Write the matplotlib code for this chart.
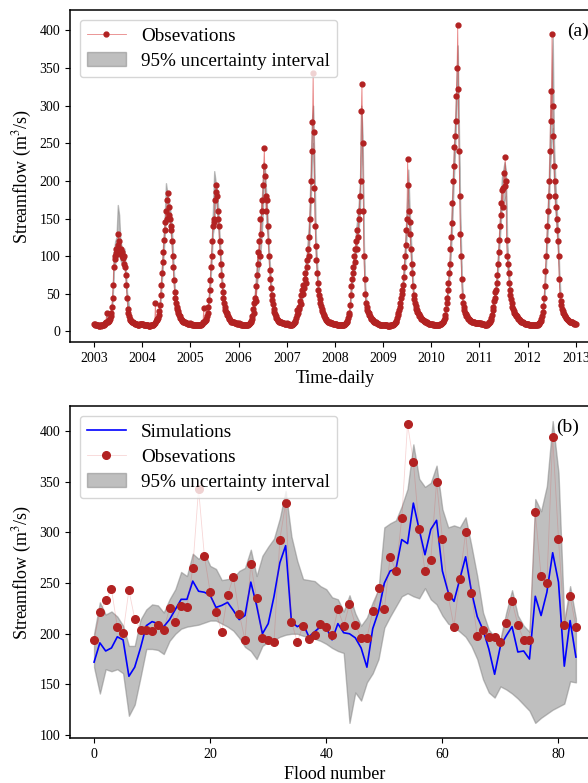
import numpy as np
import pandas as pd
import matplotlib
matplotlib.use('Agg')
import matplotlib.pyplot as plt
import matplotlib.dates as mdates

plt.rcParams['font.family'] = 'Liberation Serif'
plt.rcParams['mathtext.fontset'] = 'stix'

# ---------------- panel (a): daily streamflow, read every 5 days ----------------
years = list(range(2003, 2013))

obs_2003 = [10,10,9,9,8,8,8,7,7,8,8,7,8,8,9,9,10,11,12, 25, 12,13,14,15,17,20,24, 32,45,62,
            85,100,96,104,110,103, 115,130,120,108,104,110,100, 106,98,90,100,85,75, 62,45,30,24,20,
            17,15,14,13,12,12,11, 11,10,10,10,10,9,9,9,10,10,10,10]
obs_2004 = [10,10,9,9,9,8,8,8,8,8,7,7,7,8,8,9,9,9,10, 11,38, 14,15,16,18,22,27, 35,48,62,
            78,92,105,122, 135,145,160,150,175,184,165, 155,150,140,135,120, 100,85,68,52,
            45,38,33,30,27, 25,22,20,18,16,15, 14,13,13,12,12,11,11,11,10,10,10,10]
obs_2005 = [11,10,10,9,9,9,9,8,8,8,8,8,8,8,9,9,9,10,10, 12,31, 13,14,15,17,20,25, 32,42,55,
            68,85,100,120, 140,150,145,175,185,194,180, 160,150,140,120,105, 90,75,62,52,
            44,38,33,29,26, 24,22,20,18,16,15, 14,13,13,12,12,12,11,11,11,11,10,10]
obs_2006 = [11,10,10,10,9,9,9,9,8,8,8,8,8,9,9,10,10,11,12, 14,16,20,30,38, 25,45,60,40,75,
            105,90,120,100, 150,130,175,160,195, 220,244,207,180,160,175, 140,120,100,82,
            70,58,48,42,36, 30,26,23,20,18,16, 15,14,13,13,12,12,12,11,11,11,11,10,10,10]
obs_2007 = [11,10,10,10,9,9,9,9,9,10,10,11,12,14,18, 22,28,25,32,30,40, 36,48,55,50,62,58,
            70,78,65,86,95,110, 100,125,150,175,200, 240,278,343,265, 190,140,113,95,
            78,65,55,48, 43,38,34,30,27,25, 22,20,18,16,15,14, 13,13,12,12,11,11,11,11,10,10,10]
obs_2008 = [10,10,10,9,9,9,8,8,8,8,8,8,9,9,9,10,10,11,12, 14,18,22,25, 35,48,60,70,78,
            85,100,92,109,120, 110,135,125,150,160, 180,200,293,329, 250,160,100,70,
            50,38,32,28, 26,24,22,20,18,17,16, 15,14,13,13,12,12,11,11,10,10,10,9,9,9,9,9]
obs_2009 = [9,9,9,8,8,8,8,7,7,7,7,8,8,8,9,9,10,10,11, 12,14,18,25,22, 28,33,38,45,50,55,
            62,72,85,100,115, 135,150,229,195,160,145, 130,110,90,78,60, 48,43,38,34,
            30,28,26,25,23,21,20, 18,17,16,15,15,14,14,13,12,12,11,11,10,10,10,10]
obs_2010 = [10,10,10,9,9,9,8,8,8,8,9,9,9,10,10,10,11,12,13, 15,18,22,30,38, 45,55,65,78,90,
            110,125,144,170,200, 220,245,260,280, 313,350,407,322,240, 180,130,100,70,
            47,38,32,28, 25,23,21,20,18,17,16, 15,14,14,13,13,12,12,12,11,11,11,11,11,11,11]
obs_2011 = [11,11,11,10,10,10,10,10,9,9,9,9,10,10,11,12,13,15,18, 22,28,33,40, 45,52,55,65,75,
            90,105,122,140, 155,170,188,165,190, 210,193,232,200, 122,100,90,78,
            65,55,48,43,38,33, 30,27,25,23,22,21,20,18, 17,16,15,14,13,13,12,12,11,11,10,10,10,10]
obs_2012 = [10,10,9,9,9,8,8,8,8,8,8,8,8,9,9,9,10,10,11, 12,14,16,20,26, 34,45,60,80,100,
            122,140,160,180,200, 240,320,280,395,300, 260,220,200,180,165, 150,135,120,100,70,
            48,40,35,30, 27,25,23,21,20,18,17, 16,15,14,14,13,13,12,12,12,11,11,10,10]
obs_years = [obs_2003, obs_2004, obs_2005, obs_2006, obs_2007,
             obs_2008, obs_2009, obs_2010, obs_2011, obs_2012]
obs_end = 10

# 95% band, read every 10 days
up_2003 = [11,10,9,9,9,9,9,10,11,13,26,16,19,26,50,105,120,125,168,155,120,112,105,110,85,52,40,22,18,14,13,12,11,11,10,11,11]
lo_2003 = [9,8,7,7,6,7,7,8,9,10,11,12,15,22,40,80,90,100,105,105,95,90,88,88,65,40,22,15,13,11,10,9,9,8,8,9,9]
up_2004 = [11,10,10,9,9,9,9,9,10,12,20,17,20,30,55,90,120,150,197,185,175,165,150,120,80,50,45,30,25,20,17,14,13,12,11,11,11]
lo_2004 = [9,8,8,7,7,6,6,7,8,9,10,13,16,24,42,70,95,125,150,160,155,140,125,95,62,40,30,24,20,16,13,12,11,10,9,9,9]
up_2005 = [12,11,10,10,9,9,9,9,10,11,15,16,19,28,48,78,115,160,213,200,190,165,130,100,70,50,38,29,24,20,17,14,13,13,12,12,11]
lo_2005 = [10,9,8,8,7,7,7,7,8,9,11,13,15,22,38,62,92,130,140,175,170,140,110,82,55,40,30,23,20,16,13,12,11,11,10,10,9]
up_2006 = [12,11,10,10,9,9,9,10,11,13,18,35,45,70,95,110,130,160,190,225,215,180,150,110,80,55,40,30,24,19,16,14,13,12,12,11,11]
lo_2006 = [10,9,8,8,7,7,7,8,9,11,14,25,22,50,65,80,90,115,145,190,190,145,125,90,62,42,32,22,18,14,12,11,10,10,10,9,9]
up_2007 = [12,11,10,10,10,11,13,20,32,36,45,55,58,65,88,100,125,150,210,280,300,220,130,90,62,48,38,30,24,20,17,14,13,12,12,11,11]
lo_2007 = [10,9,8,8,8,9,11,16,24,28,35,42,45,52,70,78,100,115,160,220,250,170,100,70,48,38,30,24,20,16,13,12,11,10,10,9,9]
up_2008 = [11,11,10,9,9,9,10,10,11,13,21,28,55,78,95,105,135,150,170,200,300,260,115,60,38,30,25,20,18,16,14,13,12,11,10,10,10]
lo_2008 = [9,9,8,7,7,7,8,8,9,11,15,22,42,62,75,82,105,120,135,160,250,220,90,44,28,22,19,16,14,12,11,10,9,9,8,8,8]
up_2009 = [10,10,9,9,8,8,9,9,11,12,16,28,32,42,56,70,95,130,170,215,165,125,88,55,42,33,29,26,22,19,17,15,14,13,12,11,11]
lo_2009 = [8,8,7,7,6,6,7,7,9,10,12,22,25,34,45,55,76,100,135,175,130,100,70,42,34,27,23,20,18,15,13,12,11,10,10,9,9]
up_2010 = [11,11,10,9,9,10,10,11,12,14,20,34,50,72,100,140,190,240,280,330,380,260,150,80,44,32,26,22,19,17,15,14,13,13,12,12,12]
lo_2010 = [9,9,8,7,7,8,8,9,10,12,16,26,40,58,80,110,150,200,240,290,340,220,115,62,34,25,20,18,15,13,12,11,11,11,10,10,10]
up_2011 = [12,12,11,11,10,10,11,12,15,20,32,45,58,72,100,135,170,205,215,225,215,120,90,62,48,37,30,26,23,20,18,16,14,13,12,11,11]
lo_2011 = [10,10,9,9,8,8,9,10,12,16,25,35,46,58,80,110,140,170,170,175,180,90,70,48,38,29,24,21,19,16,14,12,12,11,10,9,9]
up_2012 = [11,10,10,9,9,9,9,10,11,12,16,23,38,68,110,155,200,270,320,394,250,200,165,135,80,45,33,27,23,20,17,15,14,13,13,12,11]
lo_2012 = [9,8,8,7,7,7,7,8,9,10,12,18,30,52,90,125,160,215,250,270,195,160,135,105,60,35,27,22,19,16,14,13,12,11,11,10,9]
up_years = [up_2003, up_2004, up_2005, up_2006, up_2007, up_2008, up_2009, up_2010, up_2011, up_2012]
lo_years = [lo_2003, lo_2004, lo_2005, lo_2006, lo_2007, lo_2008, lo_2009, lo_2010, lo_2011, lo_2012]
band_end = (9, 11)

# ---------------- panel (b): flood events ----------------
flood_obs = [194,221,233,244,207,201,243,215,204,204,203,209,204,225,212,227,226,265,343,277,
             241,221,202,238,256,220,194,269,235,196,194,192,293,329,212,192,208,195,199,210,
             207,199,224,208,229,209,196,196,222,245,224,276,262,314,407,370,303,262,273,350,
             294,237,207,254,300,240,198,204,197,197,192,211,232,209,194,194,320,257,250,394,
             294,209,237,207]
flood_sim = [172,191,183,186,197,194,158,167,186,208,212,210,207,214,224,234,234,252,242,241,
             238,226,228,231,223,214,218,251,228,200,210,237,270,287,212,207,210,197,202,207,
             206,194,210,201,200,196,186,167,205,222,250,262,264,293,289,329,303,278,303,312,
             262,241,232,254,276,242,217,204,185,160,188,198,207,182,183,175,237,218,241,280,
             251,168,213,177]
flood_up = [200,231,219,222,217,208,188,188,214,224,229,228,221,234,244,261,257,279,274,280,
            267,264,253,254,255,262,265,283,257,277,286,294,314,341,296,272,254,253,252,247,
            244,236,234,222,238,220,208,216,231,244,305,309,312,326,343,387,353,345,349,366,
            323,305,307,305,315,287,257,221,204,197,195,221,243,218,208,202,333,321,346,410,
            359,213,247,215]
flood_lo = [167,141,165,163,165,161,119,130,157,185,185,184,180,193,200,205,207,208,209,211,
            213,213,210,207,203,196,187,183,175,188,192,194,197,199,200,200,198,197,195,193,
            190,186,183,181,112,142,134,152,161,175,206,217,227,237,240,237,235,245,234,229,
            218,210,207,202,197,188,175,155,142,137,148,145,141,136,130,124,112,117,121,125,
            128,131,153,152]

# build series
t_obs = []
for y in years:
    t_obs += list(pd.date_range(f'{y}-01-01', periods=73, freq='5D'))
t_obs.append(pd.Timestamp('2013-01-01'))
q_obs = sum(obs_years, []) + [obs_end]

t_band = []
for y in years:
    t_band += list(pd.date_range(f'{y}-01-01', periods=37, freq='10D'))
t_band.append(pd.Timestamp('2013-01-01'))
q_up = sum(up_years, []) + [band_end[1]]
q_lo = sum(lo_years, []) + [band_end[0]]

flood_no = np.arange(len(flood_obs))

fig = plt.figure(figsize=(5.88, 7.83), dpi=100)
ax1 = fig.add_axes([0.119, 0.5632, 0.9014, 0.424])
ax2 = fig.add_axes([0.119, 0.0575, 0.9014, 0.424])

red = 'firebrick'

# (a)
b1 = ax1.fill_between(t_band, q_lo, q_up, color='grey', alpha=0.5, label='95% uncertainty interval')
l1, = ax1.plot(t_obs, q_obs, '-o', color=(0.85, 0.2, 0.2, 0.6), lw=0.6, ms=3.5,
               mfc=red, mec=red, label='Obsevations')
ax1.xaxis.set_major_locator(mdates.YearLocator())
ax1.xaxis.set_major_formatter(mdates.DateFormatter('%Y'))
ax1.set_xlabel('Time-daily', fontsize=13)
ax1.set_ylabel('Streamflow (m$^3$/s)', fontsize=13)
ax1.legend(handles=[l1, b1], loc='upper left', fontsize=13.8, labelspacing=0.4)
ax1.text(0.938, 0.937, '(a)', transform=ax1.transAxes, fontsize=14, va='center')

# (b)
b2 = ax2.fill_between(flood_no, flood_lo, flood_up, color='grey', alpha=0.5, label='95% uncertainty interval')
s2, = ax2.plot(flood_no, flood_sim, color='blue', lw=1.2, label='Simulations')
l2, = ax2.plot(flood_no, flood_obs, '-o', color=(0.85, 0.2, 0.2, 0.2), lw=0.6, ms=5.5,
               mfc=red, mec=red, label='Obsevations')
ax2.set_xlabel('Flood number', fontsize=13)
ax2.set_ylabel('Streamflow (m$^3$/s)', fontsize=13)
ax2.legend(handles=[s2, l2, b2], loc='upper left', fontsize=13.8, labelspacing=0.4)
ax2.text(0.917, 0.937, '(b)', transform=ax2.transAxes, fontsize=14, va='center')

for ax in (ax1, ax2):
    ax.tick_params(labelsize=10)
    for sp in ax.spines.values():
        sp.set_linewidth(1.1)

fig.savefig('out.png', dpi=100)
